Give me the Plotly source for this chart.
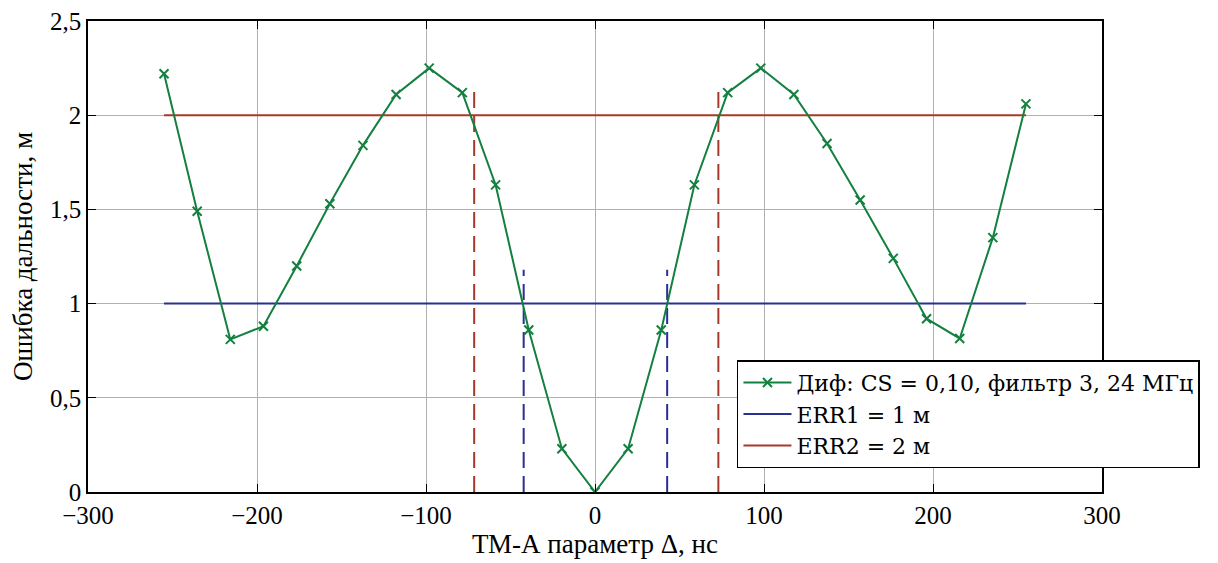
import plotly.graph_objects as go

delta_ns = [-255, -235.4, -215.8, -196.2, -176.5, -156.9, -137.3, -117.7, -98.1, -78.5,
            -58.8, -39.2, -19.6, 0, 19.6, 39.2, 58.8, 78.5, 98.1, 117.7, 137.3,
            156.9, 176.5, 196.2, 215.8, 235.4, 255]
err_m = [2.22, 1.49, 0.81, 0.88, 1.20, 1.53, 1.84, 2.11, 2.25, 2.12,
         1.63, 0.86, 0.23, 0.0, 0.23, 0.86, 1.63, 2.12, 2.25, 2.11, 1.85,
         1.55, 1.24, 0.92, 0.815, 1.35, 2.06]

err_x = [-255, 255]
err1 = [1, 1]
err2 = [2, 2]

red_cross_x = [-71.5, 73]
red_cross_top = 2.13
blue_cross_x = [-42.2, 42.7]
blue_cross_top = 1.18

x_ticks = [-300, -200, -100, 0, 100, 200, 300]
x_ticktext = ["−300", "−200", "−100", "0", "100", "200", "300"]
y_ticks = [0, 0.5, 1, 1.5, 2, 2.5]
y_ticktext = ["0", "0,5", "1", "1,5", "2", "2,5"]

GREEN = "#13803f"
BLUE = "#2b2f94"
RED = "#a8392a"
FONT = "Liberation Serif"
LEG_FONT = "DejaVu Serif"

fig = go.Figure()

# vertical dashed markers
for xv in red_cross_x:
    fig.add_trace(go.Scatter(x=[xv, xv], y=[0, red_cross_top], mode="lines",
                             line=dict(color=RED, width=2, dash="16px,8px"),
                             showlegend=False, hoverinfo="skip"))
for xv in blue_cross_x:
    fig.add_trace(go.Scatter(x=[xv, xv], y=[0, blue_cross_top], mode="lines",
                             line=dict(color=BLUE, width=2, dash="16px,8px"),
                             showlegend=False, hoverinfo="skip"))

fig.add_trace(go.Scatter(x=err_x, y=err1, mode="lines", name="ERR1 = 1 м",
                         line=dict(color=BLUE, width=2), legendrank=2))
fig.add_trace(go.Scatter(x=err_x, y=err2, mode="lines", name="ERR2 = 2 м",
                         line=dict(color=RED, width=2), legendrank=3))
fig.add_trace(go.Scatter(x=delta_ns, y=err_m, mode="lines+markers",
                         name="Диф: CS = 0,10, фильтр 3, 24 МГц",
                         line=dict(color=GREEN, width=2),
                         marker=dict(symbol="x-thin-open", size=9,
                                     line=dict(color=GREEN, width=2)),
                         legendrank=1))

fig.update_layout(
    width=1218, height=563,
    margin=dict(l=80, r=124, t=13, b=79),
    paper_bgcolor="white", plot_bgcolor="white",
    font=dict(family=FONT, size=25, color="black"),
    legend=dict(x=0.640, y=0.280, xanchor="left", yanchor="top",
                bordercolor="black", borderwidth=1.5, bgcolor="white",
                font=dict(family=LEG_FONT, size=22), tracegroupgap=0,
                itemwidth=48),
    xaxis=dict(range=[-300, 300], tickvals=x_ticks, ticktext=x_ticktext,
               showgrid=True, gridcolor="#b0b0b0", gridwidth=1.2,
               zeroline=False, showline=True, linecolor="black", linewidth=1.5,
               mirror="ticks", ticks="inside", ticklen=8, tickcolor="black",
               automargin=False, tickfont=dict(size=25),
               ticklabeloverflow="allow",
               title=dict(text="ТМ-А параметр Δ, нс", standoff=2,
                          font=dict(size=27))),
    yaxis=dict(range=[0, 2.5], tickvals=y_ticks, ticktext=y_ticktext,
               showgrid=True, gridcolor="#b0b0b0", gridwidth=1.2,
               zeroline=False, showline=True, linecolor="black", linewidth=1.5,
               mirror="ticks", ticks="inside", ticklen=8, tickcolor="black",
               automargin=False, tickfont=dict(size=25),
               ticklabeloverflow="allow",
               title=dict(text="Ошибка дальности, м", standoff=14,
                          font=dict(size=27))),
)

fig.write_html("out.html")
